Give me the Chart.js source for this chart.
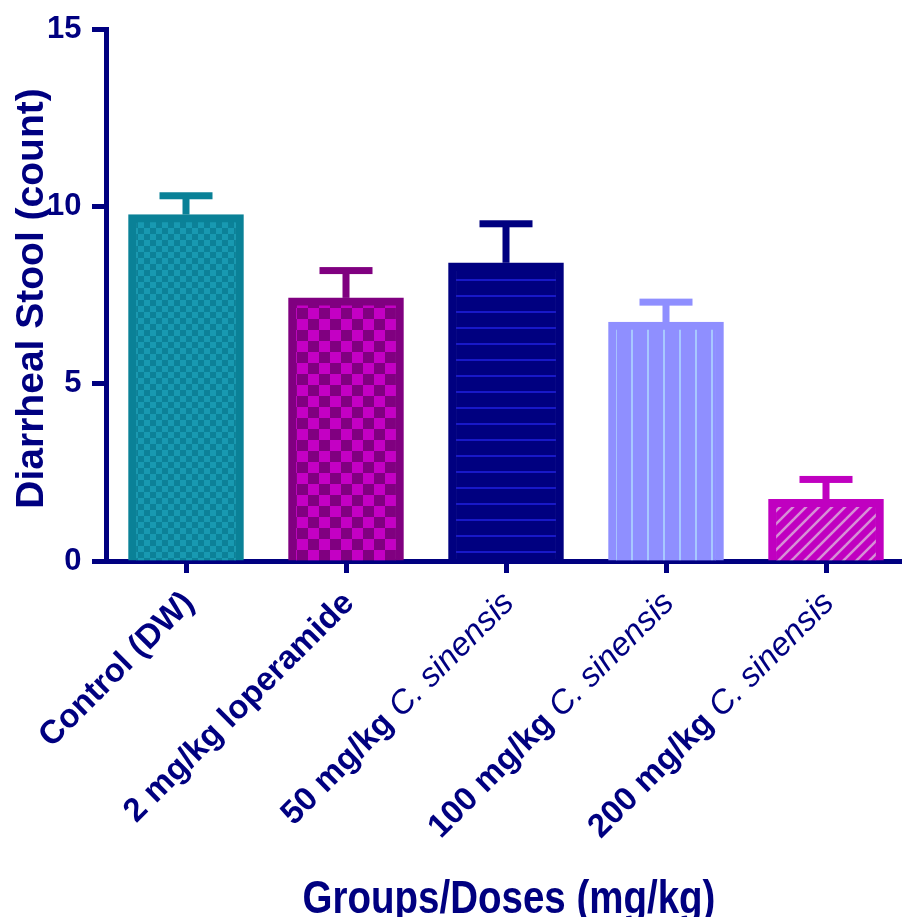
<!DOCTYPE html>
<html><head><meta charset="utf-8">
<script src="https://cdn.jsdelivr.net/npm/chart.js@4"></script>
<style>html,body{margin:0;padding:0;background:#fff;} canvas{display:block;}</style>
</head><body>
<canvas id="c" width="902" height="917"></canvas>
<script>
// ---- data ----
const categories = ['Control (DW)', '2 mg/kg loperamide', '50 mg/kg C. sinensis', '100 mg/kg C. sinensis', '200 mg/kg C. sinensis'];
const labelBold = ['Control (DW)', '2 mg/kg loperamide', '50 mg/kg ', '100 mg/kg ', '200 mg/kg '];
const labelItalic = ['', '', 'C. sinensis', 'C. sinensis', 'C. sinensis'];
const meanValues = [9.77, 7.42, 8.41, 6.74, 1.74];
const semValues = [0.53, 0.77, 1.10, 0.56, 0.56];
const yTickValues = [0, 5, 10, 15];
const xTitle = 'Groups/Doses (mg/kg)';
const yTitle = 'Diarrheal Stool (count)';

const NAVY = '#000080';
const FONT = '"Liberation Sans", Arial, sans-serif';
const borderColors = ['#0a8197', '#800080', '#000080', '#8f8fff', '#c000c0'];

function tile(w, h, draw) { const c = document.createElement('canvas'); c.width = w; c.height = h; draw(c.getContext('2d'), w, h); return c; }
const cv = document.getElementById('c');
const ctx0 = cv.getContext('2d');
const pats = [
  ctx0.createPattern(tile(12, 12, g => { g.fillStyle = '#0c8198'; g.fillRect(0,0,12,12); g.fillStyle = '#1899b1'; g.fillRect(0,0,6,6); g.fillRect(6,6,6,6); }), 'repeat'),
  ctx0.createPattern(tile(22, 22, g => { g.fillStyle = '#800080'; g.fillRect(0,0,22,22); g.fillStyle = '#c400c4'; g.fillRect(0,0,11,11); g.fillRect(11,11,11,11); }), 'repeat'),
  ctx0.createPattern(tile(16, 16, g => { g.fillStyle = '#000080'; g.fillRect(0,0,16,16); g.fillStyle = '#1818c8'; g.fillRect(0,7,16,2); }), 'repeat'),
  ctx0.createPattern(tile(16, 16, g => { g.fillStyle = '#8f8fff'; g.fillRect(0,0,16,16); g.fillStyle = '#a8c8ff'; g.fillRect(7,0,2,16); }), 'repeat'),
  ctx0.createPattern(tile(13, 13, g => { g.fillStyle = '#c000c0'; g.fillRect(0,0,13,13); g.strokeStyle = '#d690d6'; g.lineWidth = 2.5;
    [-13, 0, 13].forEach(k => { g.beginPath(); g.moveTo(k - 1, 14); g.lineTo(k + 14, -1); g.stroke(); }); }), 'repeat')
];

const custom = {
  id: 'custom',
  afterDatasetsDraw(chart) {
    const { ctx, scales: { y } } = chart;
    const meta = chart.getDatasetMeta(0);
    meta.data.forEach((el, i) => {
      const cx = el.x;
      const yTop = y.getPixelForValue(meanValues[i]);
      const yE = y.getPixelForValue(meanValues[i] + semValues[i]);
      ctx.save();
      ctx.fillStyle = borderColors[i];
      ctx.fillRect(cx - 3.5, yE, 7, yTop - yE);
      ctx.fillRect(cx - 26.5, yE - 3.5, 53, 7);
      ctx.restore();
    });
  },
  afterDraw(chart) {
    const { ctx, scales: { x, y } } = chart;
    ctx.save();
    ctx.fillStyle = NAVY;
    categories.forEach((c, i) => {
      const px = x.getPixelForValue(i);
      ctx.save();
      ctx.translate(px + 3, y.bottom + 37);
      ctx.rotate(-Math.PI / 4);
      ctx.textAlign = 'right';
      ctx.textBaseline = 'middle';
      let off = 0;
      if (labelItalic[i]) {
        ctx.font = 'italic 33px ' + FONT;
        ctx.fillText(labelItalic[i], 0, 0);
        off = ctx.measureText(labelItalic[i]).width;
      }
      ctx.font = 'bold 33px ' + FONT;
      ctx.fillText(labelBold[i], -off, 0);
      ctx.restore();
    });
    // x title (slightly tall, as in the reference)
    ctx.save();
    ctx.font = 'bold 38.5px ' + FONT;
    ctx.textAlign = 'center';
    ctx.textBaseline = 'alphabetic';
    ctx.translate(509, 913);
    ctx.scale(1, 1.2);
    ctx.fillText(xTitle, 0, 0);
    ctx.restore();
    // y title
    ctx.save();
    ctx.font = 'bold 39px ' + FONT;
    ctx.textAlign = 'center';
    ctx.textBaseline = 'alphabetic';
    ctx.translate(43, 298.5);
    ctx.rotate(-Math.PI / 2);
    ctx.fillText(yTitle, 0, 0);
    ctx.restore();
    ctx.restore();
  }
};

new Chart(cv, {
  type: 'bar',
  data: {
    datasets: [{
      data: meanValues.map((v, i) => ({ x: i, y: v })),
      backgroundColor: pats,
      borderColor: borderColors,
      borderWidth: 8,
      barThickness: 115
    }]
  },
  options: {
    responsive: false,
    animation: false,
    devicePixelRatio: 1,
    layout: { padding: { top: 28, left: 0, right: 0, bottom: 0 } },
    plugins: { legend: { display: false }, tooltip: { enabled: false } },
    scales: {
      x: {
        type: 'linear', min: -0.5, max: 4.475, offset: false, z: 1,
        afterBuildTicks: s => { s.ticks = categories.map((_, i) => ({ value: i })); },
        afterFit: s => { s.height = 356; },
        ticks: { display: false },
        grid: { display: true, offset: false, drawOnChartArea: false, drawTicks: true, tickLength: 12, tickWidth: 5, tickColor: NAVY },
        border: { display: true, width: 5, color: NAVY }
      },
      y: {
        min: 0, max: 15, z: 1,
        afterBuildTicks: s => { s.ticks = yTickValues.map(v => ({ value: v })); },
        afterFit: s => { s.width = 106; },
        ticks: { color: NAVY, font: { family: FONT, size: 31, weight: 'bold' }, padding: 10.5 },
        grid: { display: true, drawOnChartArea: false, drawTicks: true, tickLength: 14, tickWidth: 5, tickColor: NAVY },
        border: { display: true, width: 5, color: NAVY }
      }
    }
  },
  plugins: [custom]
});
</script>
</body></html>
